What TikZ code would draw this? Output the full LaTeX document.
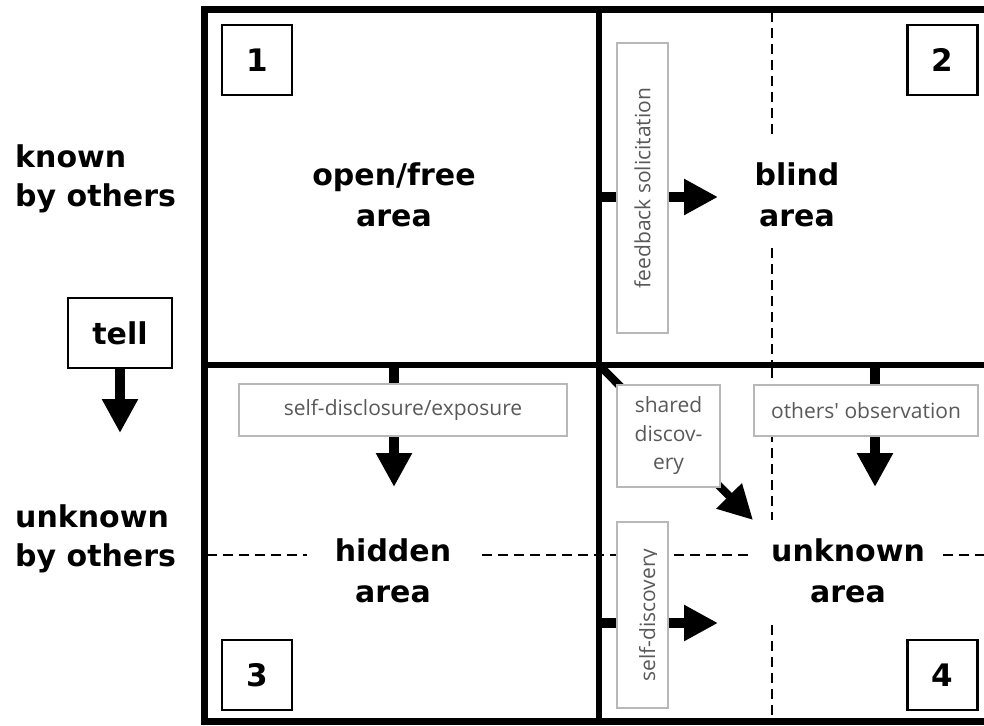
\documentclass[tikz,border=0pt]{standalone}
\usepackage{fontspec}
\setmainfont{DejaVu Sans}
\newfontfamily\notefont{Open Sans}
\usetikzlibrary{arrows.meta}
\definecolor{boxgray}{gray}{0.72}
\definecolor{notegray}{gray}{0.35}

\begin{document}
\begin{tikzpicture}[x=1pt,y=-1pt,
  arealabel/.style={font=\bfseries\fontsize{30}{41}\selectfont, align=center, inner sep=0pt},
  sidelabel/.style={font=\bfseries\fontsize{30}{39}\selectfont, align=left, inner sep=0pt, anchor=west},
  numbox/.style={draw, line width=2.2pt, minimum width=70pt, minimum height=70pt, inner sep=0pt,
    font=\bfseries\fontsize{31}{31}\selectfont},
  notebox/.style={draw=boxgray, line width=1.4pt, fill=white, text=notegray, inner sep=0pt,
    font=\notefont\fontsize{21}{28.5}\selectfont, align=center},
  bigarrow/.style={line width=10pt, -{Triangle[length=34pt,width=34pt]}},
  axis/.style={line width=6.5pt, line join=miter},
  divider/.style={line width=2.5pt, dash pattern=on 10pt off 6pt},
]
\fill[white] (0,0) rectangle (984,725);
\useasboundingbox (0,0) rectangle (984,725);

% grid corners and mid points
\coordinate (TL) at (204.5,9.5);
\coordinate (TR) at (984,9.5);
\coordinate (BL) at (204.5,721.5);
\coordinate (BR) at (984,721.5);
\coordinate (TM) at (599,9.5);
\coordinate (BM) at (599,721.5);
\coordinate (ML) at (204.5,365);
\coordinate (MR) at (984,365);
\coordinate (C)  at (599,365);

% dashed sub-dividers (interrupted around the area labels)
\draw[divider] (772,12) -- (772,140);
\draw[divider] (772,248) -- (772,362);
\draw[divider] (772,368) -- (772,520);
\draw[divider] (772,625) -- (772,720);
\draw[divider] (207,555) -- (307,555);
\draw[divider] (482,555) -- (753,555);
\draw[divider] (943,555) -- (984,555);

% arrow end points
\coordinate (fbStart) at (599,197);
\coordinate (fbTip) at (718,197);
\coordinate (sdStart) at (599,623);
\coordinate (sdTip) at (718,623);
\coordinate (exStart) at (394,365);
\coordinate (exTip) at (394,487);
\coordinate (obStart) at (875,365);
\coordinate (obTip) at (875,487);
\coordinate (shTip) at (753,520);
\coordinate (tellTip) at (120,433);

% arrows (partly hidden behind the label boxes)
\draw[bigarrow] (fbStart) -- (fbTip);
\draw[bigarrow] (sdStart) -- (sdTip);
\draw[bigarrow] (exStart) -- (exTip);
\draw[bigarrow] (obStart) -- (obTip);
\draw[bigarrow, line width=8pt] (C) -- (shTip);

% label boxes of the processes
\node[notebox, rotate=90, minimum width=290pt, minimum height=51pt] (feedback) at (642.5,188) {feedback solicitation};
\node[notebox, minimum width=328pt, minimum height=52pt] (exposure) at (403,410) {self-disclosure/exposure};
\node[notebox, minimum width=224pt, minimum height=51pt] (observation) at (866,410.5) {others' observation};
\node[notebox, minimum width=103pt, minimum height=102pt] (shared) at (668.5,436) {shared\\discov-\\ery};
\node[notebox, rotate=90, minimum width=186pt, minimum height=51pt] (selfdisc) at (642.5,615) {};
\begin{scope}
  \clip (617,522) rectangle (656,708);
  \node[rotate=90, anchor=base, inner sep=0pt, text=notegray, font=\notefont\fontsize{21}{21}\selectfont] (selfdisctext) at (655,615) {self-discovery};
\end{scope}

% outer frame and quadrant dividers
\draw[axis] (TR) -- (TL) -- (BL) -- (BR);
\draw[axis] (TM) -- (BM);
\draw[axis] (ML) -- (MR);

% quadrant numbers
\node[numbox] (n1) at (257,60) {1};
\node[numbox] (n2) at (942.5,60) {2};
\node[numbox] (n3) at (257,675) {3};
\node[numbox] (n4) at (942.5,675) {4};

% area names
\node[arealabel] (open) at (394,194.5) {open/free\\area};
\node[arealabel] (blind) at (797,194.5) {blind\\area};
\node[arealabel] (hidden) at (393,570.5) {hidden\\area};
\node[arealabel] (unknown) at (848,570.5) {unknown\\area};

% row headings and the "tell" step
\node[sidelabel] (known) at (15,179) {known\\by others};
\node[sidelabel] (unknownby) at (15,539) {unknown\\by others};
\node[draw, line width=2pt, minimum width=104pt, minimum height=70pt, inner sep=0pt,
  font=\bfseries\fontsize{30}{30}\selectfont] (tell) at (120,333) {tell};
\draw[bigarrow] (tell.south) -- (tellTip);
\end{tikzpicture}
\end{document}
